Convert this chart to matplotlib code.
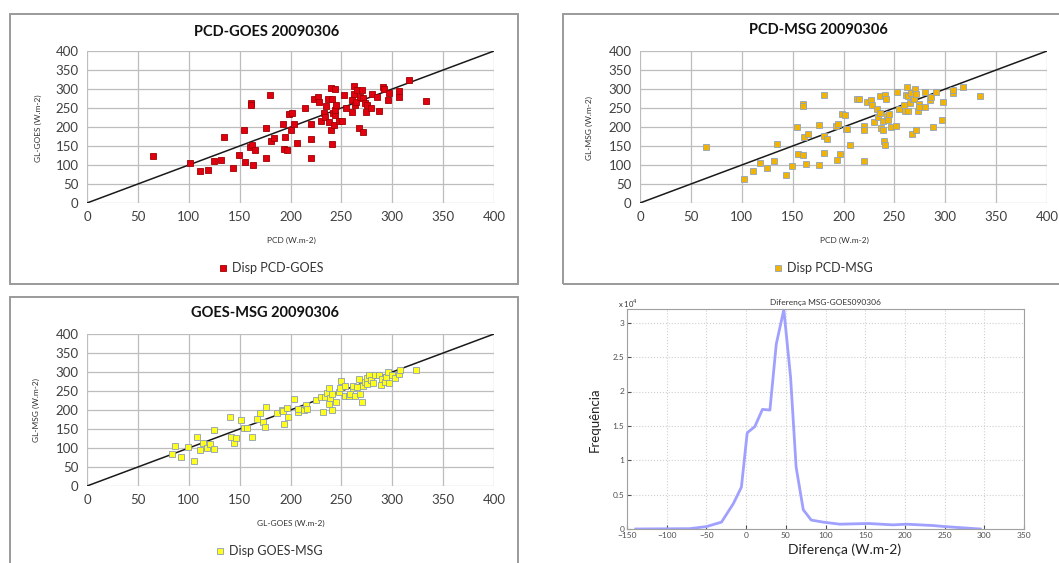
import matplotlib
matplotlib.use("Agg")
import matplotlib.pyplot as plt
from matplotlib.patches import Rectangle

plt.rcParams['font.family'] = ['Lato', 'DejaVu Sans']

# PCD-GOES scatter (x = PCD, y = GL-GOES)
pcd_goes_x = [64.9, 101.6, 111, 119, 124.5, 131.7, 134.6, 143.5, 149, 154.3, 155.3, 160.5,
              160.8, 160.8, 162, 163, 165.4, 176, 176, 180, 181, 183.8, 193, 193.6, 194.6,
              196.9, 198.9, 200.5, 201.5, 203.4, 206, 214, 219.8, 219.8, 219.8, 223, 227.4,
              227.7, 230, 232.6, 233.6, 235, 236.8, 237.8, 239.5, 240, 240.4, 241, 241.8,
              242.8, 243.4, 243.7, 244, 245, 247.3, 251, 252.3, 254.3, 260.5, 260.5, 262.5,
              262.5, 263.4, 264.8, 265.8, 267, 268, 270.6, 271.3, 271.3, 273.6, 274.5, 274.9,
              279.4, 280.4, 284.7, 287.3, 290.9, 291.5, 296, 296.8, 306.3, 306.3, 316.9, 333.2]
pcd_goes_y = [124, 104.6, 83.5, 87, 110.8, 113.4, 174, 91.4, 125.7, 192.5, 108.8, 146.8,
              262, 256.7, 152, 99, 140.2, 197.8, 117.8, 284, 164, 172.3, 206.6, 142.4, 175,
              139.8, 233.8, 191.6, 236.5, 206.6, 157, 249.7, 206.6, 168.8, 119.6, 272.5, 278.7,
              266.4, 215, 236.5, 226.8, 254.9, 274, 213.2, 192.1, 302.4, 154, 274.1, 237.4,
              204, 232, 246, 298.9, 258.5, 215, 215, 284, 248.8, 270.8, 240, 307.7,
              287.5, 258.5, 265.5, 296.3, 197.8, 278.7, 297.1, 188.1, 277, 263.7, 240, 256.7,
              249.7, 286.6, 277.8, 240.9, 304.2, 298.9, 271.6, 289.2, 279.6, 295.4, 323.5, 269]

# PCD-MSG scatter (x = PCD, y = GL-MSG)
pcd_msg_x = [64.8, 102.1, 110.6, 118.2, 124.4, 131.3, 134.2, 143.4, 149.3, 154.2, 155.2, 160.4,
             160.4, 160.4, 161.4, 163, 165.3, 175.8, 176.1, 180.7, 181, 181, 183.6, 192.8,
             193.4, 194.8, 197, 199, 201.6, 202, 203.6, 206.2, 213.7, 215.4, 220, 220, 220,
             223.2, 226.8, 227.8, 230.1, 233, 234, 236, 236.3, 237.3, 239, 239.3, 240, 240.6,
             240.6, 242.2, 242.9, 243.5, 244.8, 247.1, 251.4, 252.4, 254.7, 259.6, 260.6,
             261.9, 262.5, 263.2, 263.8, 265.1, 266.4, 267.4, 268.4, 269.7, 270.7, 271, 271,
             273.6, 274.6, 274.6, 279.9, 280.5, 284.8, 286.4, 288.4, 291.3, 296.6, 297.5,
             307.4, 307.4, 317.5, 333.9]
pcd_msg_y = [147.1, 63.4, 84.6, 105.7, 93.4, 110.1, 155.9, 74.9, 96.9, 200.9, 127.8, 261.7,
             256.4, 126, 172.7, 101.4, 182.4, 100.4, 206.2, 285.5, 177.1, 130.4, 167.4, 203.5,
             112.8, 207.9, 128.6, 234.4, 232.6, 194.7, 194.7, 153.3, 274.2, 274.2, 202.6, 193, 110.1,
             266.3, 270.5, 259, 214, 247.6, 226.4, 236.1, 281, 197.4, 193, 215.9, 163, 283.7,
             152.4, 273.3, 228.2, 217.6, 234.4, 199.1, 203.5, 291.6, 248.5, 259, 243.2,
             283.7, 304.8, 242.3, 281, 263.4, 289.9, 180.6, 274.2, 273.3, 300.6, 192.1, 287.2,
             243.2, 261.7, 252.9, 252.9, 292.5, 270.5, 279.3, 200.9, 293.4, 219.4, 265.2,
             290.7, 296.9, 304.8, 281.9]

# GOES-MSG scatter (x = GL-GOES, y = GL-MSG)
goes_msg_x = [83.5, 86.7, 92.3, 99.2, 104.7, 108, 111, 113.9, 118.2, 120.8, 125, 124.7, 140.4,
              141.1, 144, 146.3, 151.2, 154.2, 157.4, 162.3, 167, 170, 173.2, 174.5, 175.5,
              187.2, 191.5, 193.1, 194.1, 196.7, 198, 203.3, 207.2, 207.5, 213.1, 215, 216,
              225.2, 230.1, 231.8, 233.7, 235.7, 238, 238, 239.3, 240.3, 241, 244.8, 248.1,
              248.8, 249.4, 253.4, 254, 257.3, 258.6, 261.2, 261.9, 263.8, 265.8, 267.8, 268.4,
              269.8, 271.1, 273, 275, 275.6, 277.6, 279.5, 280.8, 282.8, 286.7, 288.7, 290,
              292.6, 293.9, 295.9, 296.9, 299.8, 302.5, 306.4, 307.7, 323.4]
goes_msg_y = [84.2, 106.1, 75.4, 101.8, 64.9, 129, 93.9, 112.3, 100.9, 110.5, 97.4, 147.4, 182.5,
              129.8, 114, 126.3, 172.8, 153.5, 153.5, 129.8, 175.4, 192.1, 167.5, 156.1, 208.8,
              193, 200.9, 196.5, 164, 205.3, 180.7, 228.1, 194.7, 203.5, 200, 213.2, 202.6,
              226.3, 235.1, 194.7, 234.2, 244.7, 257, 216.7, 230.7, 200.9, 241.2, 220.2, 248.2,
              257, 275.4, 236.8, 262.3, 236, 243, 257, 262.3, 236, 259.6, 281.6, 242.1,
              220.2, 262.3, 272.8, 283.3, 268.4, 293, 279.8, 271, 292.1, 292.1, 264.9, 281.6,
              273.7, 286.8, 300.9, 271, 293, 284.2, 295.6, 306.1, 304.4]

# MSG-GOES difference frequency curve (frequency in units of 10^4)
diff_x = [-139, -115, -100, -71, -50, -31, -16, -5.9, 1.3, 2.5, 11, 20.6, 30, 38, 47.5, 56, 63,
          72, 82, 97, 118, 154, 185, 202, 236, 250, 295]
diff_freq = [0.0, 0.002, 0.003, 0.005, 0.035, 0.1, 0.37, 0.61, 1.39, 1.41, 1.49, 1.74, 1.73, 2.69,
             3.19, 2.21, 0.9, 0.28, 0.13, 0.1, 0.07, 0.08, 0.06, 0.07, 0.05, 0.035, 0.0]

W, H = 1059, 563
fig = plt.figure(figsize=(W / 100, H / 100), dpi=100)


def px(x0, y0, x1, y1):
    # pixel box -> figure fraction [left, bottom, width, height]
    return [x0 / W, 1 - y1 / H, (x1 - x0) / W, (y1 - y0) / H]


def excel_panel(box, frame, title, tpos, xlab, xpos, ylab, ypos, xs, ys, face, edge, leg, lpos):
    fig.patches.append(Rectangle((frame[0] / W, 1 - frame[3] / H),
                                 (frame[2] - frame[0]) / W, (frame[3] - frame[1]) / H,
                                 transform=fig.transFigure, fill=False,
                                 edgecolor='#9a9a9a', linewidth=1.4))
    ax = fig.add_axes(px(*box))
    ax.set_xlim(0, 400)
    ax.set_ylim(0, 400)
    ticks = list(range(0, 401, 50))
    ax.set_xticks(ticks)
    ax.set_yticks(ticks)
    ax.grid(True, color='#bdbdbd', linewidth=0.9)
    ax.set_axisbelow(True)
    for s in ax.spines.values():
        s.set_visible(False)
    ax.tick_params(length=0, labelsize=9.5, colors='#404040', pad=6)
    ax.plot([0, 400], [0, 400], color='#1a1a1a', linewidth=1.1, zorder=2)
    ax.plot(xs, ys, 's', markersize=5, markerfacecolor=face, markeredgecolor=edge,
            markeredgewidth=0.6, linestyle='none', label=leg, zorder=3)
    fig.text(tpos[0] / W, 1 - tpos[1] / H, title, ha='center', va='center',
             fontsize=10.5, fontweight='bold', color='#111111')
    fig.text(xpos[0] / W, 1 - xpos[1] / H, xlab, ha='center', va='center',
             fontsize=6, color='#333333')
    fig.text(ypos[0] / W, 1 - ypos[1] / H, ylab, ha='center', va='center',
             fontsize=6, color='#333333', rotation=90)
    ax.legend(loc='center', bbox_to_anchor=(lpos[0] / W, 1 - lpos[1] / H),
              bbox_transform=fig.transFigure, frameon=False, fontsize=9,
              handletextpad=0.2, handlelength=1.0, markerscale=0.8, labelcolor='#333333')
    return ax


excel_panel((87, 51, 494, 203), (10, 14, 518, 284), 'PCD-GOES 20090306', (267, 32),
            'PCD (W.m-2)', (291, 240), 'GL-GOES (W.m-2)', (38, 128),
            pcd_goes_x, pcd_goes_y, '#e00010', '#a00000', 'Disp PCD-GOES', (270, 268))
excel_panel((640, 51, 1047, 203), (563, 14, 1075, 284), 'PCD-MSG 20090306', (818, 30),
            'PCD (W.m-2)', (844, 240), 'GL-MSG (W.m-2)', (589, 128),
            pcd_msg_x, pcd_msg_y, '#f2b400', '#8fa3c4', 'Disp PCD-MSG', (822, 268))
excel_panel((87, 334, 494, 486), (10, 297, 518, 580), 'GOES-MSG 20090306', (265, 313),
            'GL-GOES (W.m-2)', (291, 523), 'GL-MSG (W.m-2)', (36, 410),
            goes_msg_x, goes_msg_y, '#ffff1a', '#8d9db5', 'Disp GOES-MSG', (268, 551))

# MATLAB-style histogram curve
ax4 = fig.add_axes(px(627, 309, 1024, 529))
ax4.plot(diff_x, diff_freq, color='#a0a0ff', linewidth=2.0)
ax4.set_xlim(-150, 350)
ax4.set_ylim(0, 3.2)
ax4.set_xticks(list(range(-150, 351, 50)))
ax4.set_yticks([0, 0.5, 1, 1.5, 2, 2.5, 3])
ax4.set_yticklabels(['0', '0.5', '1', '1.5', '2', '2.5', '3'])
ax4.grid(True, color='#d0d0d0', linestyle=':', linewidth=0.8)
for s in ax4.spines.values():
    s.set_color('#a0a0a0')
ax4.tick_params(direction='in', length=3, labelsize=6, colors='#505050', pad=2)
ax4.set_title('Diferença MSG-GOES090306', fontsize=6, color='#333333', pad=3)
fig.text(628 / W, 1 - 304 / H, r'x 10$^4$', fontsize=5.5, color='#333333',
         ha='center', va='center')
fig.text(845 / W, 1 - 550 / H, 'Diferença (W.m-2)', fontsize=10, color='#222222',
         ha='center', va='center')
fig.text(595 / W, 1 - 420 / H, 'Frequência', fontsize=9.5, color='#222222',
         ha='center', va='center', rotation=90)

fig.savefig('out.png', dpi=100)
